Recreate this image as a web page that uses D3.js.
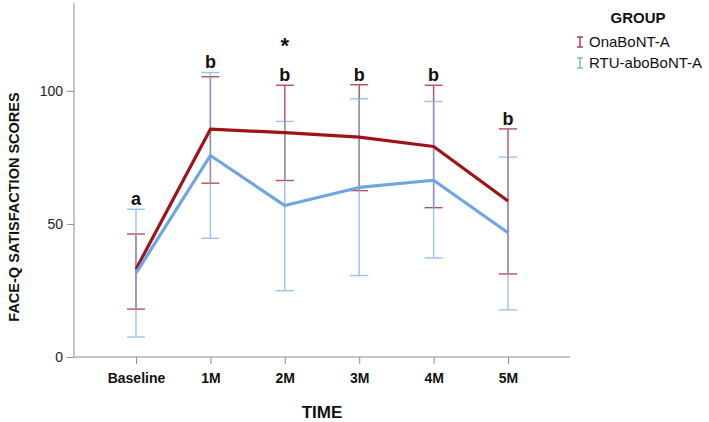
<!DOCTYPE html>
<html><head><meta charset="utf-8">
<script src="https://cdn.jsdelivr.net/npm/d3@7"></script>
<style>body{margin:0;background:#fff;} svg{display:block;font-family:"Liberation Sans",Arial,sans-serif;}</style>
</head><body><div id="chart"></div>
<script>
const categories = ["Baseline","1M","2M","3M","4M","5M"];
const groups = ["OnaBoNT-A","RTU-aboBoNT-A"];
const onaMean  = [33.0, 85.6, 84.3, 82.6, 79.1, 58.6];
const onaLow   = [18.0, 65.3, 66.3, 62.5, 56.1, 31.2];
const onaHigh  = [46.2, 105.3, 102.1, 102.3, 102.1, 85.7];
const rtuMean  = [31.5, 75.7, 56.9, 63.7, 66.4, 46.7];
const rtuLow   = [7.5, 44.6, 24.9, 30.6, 37.2, 17.7];
const rtuHigh  = [55.5, 106.9, 88.5, 97.0, 96.0, 75.1];
const letters  = ["a","b","b","b","b","b"];
const starAt   = ["2M"];
const yTicks   = [0, 50, 100];

const W = 709, H = 422;
const svg = d3.select("#chart").append("svg").attr("width", W).attr("height", H);
const x = d3.scalePoint().domain(categories).range([74, 570]).padding(0.833);
const y = d3.scaleLinear().domain([0, 133]).range([357, 3]);

const axisColor = "#8c8c8c";
const yAxis = svg.append("g").attr("transform","translate(74,0)")
  .call(d3.axisLeft(y).tickValues(yTicks).tickSize(7).tickPadding(4));
yAxis.select(".domain").attr("stroke", axisColor).attr("d", `M0,${y.range()[1]}V${y.range()[0]}`);
yAxis.selectAll(".tick line").attr("stroke", axisColor);
yAxis.selectAll(".tick text").attr("font-size", 14).attr("fill", "#222").attr("font-family","Liberation Sans, Arial, sans-serif");

const xAxis = svg.append("g").attr("transform","translate(0,357)")
  .call(d3.axisBottom(x).tickSize(7).tickPadding(9));
xAxis.select(".domain").attr("stroke", axisColor).attr("d", `M${x.range()[0]},0H${x.range()[1]}`);
xAxis.selectAll(".tick line").attr("stroke", axisColor);
xAxis.selectAll(".tick text").attr("font-size", 14).attr("font-weight","bold").attr("fill", "#111").attr("font-family","Liberation Sans, Arial, sans-serif");

svg.append("text").attr("x", 322).attr("y", 418).attr("text-anchor","middle")
  .attr("font-size", 17).attr("font-weight","bold").attr("fill","#111").text("TIME");
svg.append("text").attr("transform", "translate(19,207) rotate(-90)").attr("text-anchor","middle")
  .attr("font-size", 14.5).attr("font-weight","bold").attr("fill","#111").text("FACE-Q SATISFACTION SCORES");

const series = [
  {name: groups[0], mean: onaMean, low: onaLow, high: onaHigh, line: "#9e1318", bar: "#a5323f", barOp: 0.85},
  {name: groups[1], mean: rtuMean, low: rtuLow, high: rtuHigh, line: "#6ea6e3", bar: "#79aee6", barOp: 0.75}
];
const capW = 9;
series.forEach(s => {
  const g = svg.append("g").attr("stroke", s.bar).attr("stroke-width", 1.4).attr("opacity", s.barOp);
  categories.forEach((c, i) => {
    g.append("line").attr("x1", x(c)).attr("x2", x(c)).attr("y1", y(s.low[i])).attr("y2", y(s.high[i]));
    g.append("line").attr("x1", x(c)-capW).attr("x2", x(c)+capW).attr("y1", y(s.low[i])).attr("y2", y(s.low[i]));
    g.append("line").attr("x1", x(c)-capW).attr("x2", x(c)+capW).attr("y1", y(s.high[i])).attr("y2", y(s.high[i]));
  });
});
series.forEach(s => {
  const line = d3.line().x((d,i) => x(categories[i])).y(d => y(d));
  svg.append("path").datum(s.mean).attr("d", line).attr("fill","none")
    .attr("stroke", s.line).attr("stroke-width", 3.2).attr("stroke-linejoin","round");
});

categories.forEach((c, i) => {
  const top = Math.max(onaHigh[i], rtuHigh[i]);
  svg.append("text").attr("x", x(c)).attr("y", y(top) - 4).attr("text-anchor","middle")
    .attr("font-size", 18).attr("font-weight","bold").attr("fill","#111").text(letters[i]);
  if (starAt.includes(c)) {
    svg.append("text").attr("x", x(c)).attr("y", y(top) - 32).attr("text-anchor","middle")
      .attr("font-size", 22).attr("font-weight","bold").attr("fill","#111").text("*");
  }
});

svg.append("text").attr("x", 638).attr("y", 23).attr("text-anchor","middle")
  .attr("font-size", 15).attr("font-weight","bold").attr("fill","#111").text("GROUP");
series.forEach((s, i) => {
  const cy = 42 + i * 21;
  const gx = 580;
  const lg = svg.append("g").attr("stroke", s.bar).attr("stroke-width", 1.4);
  lg.append("line").attr("x1", gx).attr("x2", gx).attr("y1", cy-5).attr("y2", cy+5);
  lg.append("line").attr("x1", gx-3).attr("x2", gx+3).attr("y1", cy-5).attr("y2", cy-5);
  lg.append("line").attr("x1", gx-3).attr("x2", gx+3).attr("y1", cy+5).attr("y2", cy+5);
  svg.append("text").attr("x", 589).attr("y", cy + 5).attr("font-size", 15).attr("fill","#111").text(s.name);
});
</script></body></html>
